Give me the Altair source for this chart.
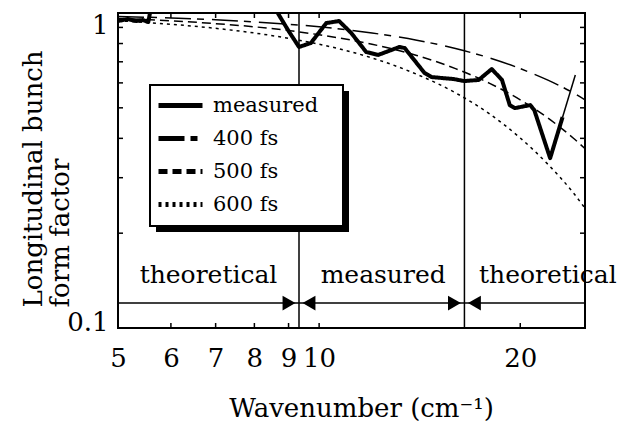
import altair as alt
import pandas as pd

# ---------------- data ----------------
# theoretical Gaussian form factors (wavenumber in cm^-1)
k_theory = [5, 6, 7, 8, 9, 10, 12, 14, 16, 18, 20, 22, 24, 25]
ff_400 = [0.975, 0.964, 0.952, 0.937, 0.921, 0.904, 0.864, 0.820, 0.771, 0.720, 0.666, 0.612, 0.558, 0.530]
ff_500 = [0.961, 0.945, 0.925, 0.904, 0.880, 0.853, 0.796, 0.733, 0.666, 0.598, 0.530, 0.464, 0.401, 0.371]
ff_600 = [0.945, 0.921, 0.894, 0.864, 0.831, 0.796, 0.720, 0.639, 0.558, 0.478, 0.401, 0.331, 0.269, 0.240]

# measured form factor
meas_k = [5.0, 5.17, 5.32, 5.45, 5.55, 5.63, 6.5, 8.0, 8.47, 8.67, 9.0, 9.33, 9.72, 10.25,
          10.71, 11.17, 11.76, 12.26, 13.19, 13.43, 14.38, 14.73, 15.9, 16.5, 17.33, 18.13,
          18.78, 19.29, 19.63, 20.7, 20.99, 22.17, 22.9, 23.14]
meas_ff = [0.943, 0.957, 0.943, 0.95, 0.936, 1.1, 1.25, 1.25, 1.08, 1.0, 0.877, 0.78, 0.803, 0.929,
           0.943, 0.864, 0.752, 0.736, 0.78, 0.774, 0.645, 0.626, 0.617, 0.608, 0.613, 0.664,
           0.613, 0.51, 0.499, 0.51, 0.492, 0.346, 0.434, 0.467]
ext_k = [23.14, 24.18]
ext_ff = [0.467, 0.636]

series_names = ["measured", "400 fs", "500 fs", "600 fs"]

boundaries = [9.33, 16.5]
region_k = [6.83, 12.47, 22.0]
region_labels = ["theoretical", "measured", "theoretical"]
region_y = 0.139
arrow_y = 0.12

x_tick_labels = [5, 6, 7, 8, 9, 10, 20]
x_minor = [6, 7, 8, 9, 10, 20]
y_tick_labels = [0.1, 1]
y_minor = [0.2, 0.3, 0.4, 0.5, 0.6, 0.7, 0.8, 0.9]

# ---------------- chart ----------------
FONT = "DejaVu Serif"
W, H = 467, 315

xs = alt.Scale(type="log", domain=[5, 25], nice=False)
ys = alt.Scale(type="log", domain=[0.1, 1], nice=False)

theory_df = pd.DataFrame({
    "k": k_theory * 3,
    "ff": ff_400 + ff_500 + ff_600,
    "series": ["400 fs"] * len(k_theory) + ["500 fs"] * len(k_theory) + ["600 fs"] * len(k_theory),
})
meas_df = pd.DataFrame({"k": meas_k, "ff": meas_ff, "series": ["measured"] * len(meas_k)})
ext_df = pd.DataFrame({"k": ext_k, "ff": ext_ff})
bound_df = pd.DataFrame({"k": boundaries, "ff": [arrow_y] * len(boundaries)})
region_df = pd.DataFrame({"k": region_k, "ff": [region_y] * 3, "label": region_labels})
xminor_df = pd.DataFrame({"k": x_minor})
yminor_df = pd.DataFrame({"ff": y_minor})
hline_df = pd.DataFrame({"ff": [arrow_y]})
one_df = pd.DataFrame({"a": [0]})

dash_scale = alt.Scale(domain=series_names,
                       range=[[1, 0], [26, 6, 7, 8], [9, 5], [3, 4]])

legend = alt.Legend(
    title=None, orient="none", legendX=38, legendY=76, padding=0,
    symbolType="stroke", symbolSize=1936, symbolStrokeWidth=5,
    symbolStrokeColor="black", labelFont=FONT, labelFontSize=21,
    labelOffset=8, rowPadding=0, clipHeight=33, labelColor="black",
)

x_axis = alt.Axis(
    values=x_tick_labels, format="d", ticks=False, domain=False, grid=False,
    labelFont=FONT, labelFontSize=26, labelColor="black", labelPadding=17,
    labelFlush=False, labelOverlap=False,
    title="Wavenumber (cm⁻¹)", titleFont=FONT, titleFontSize=26,
    titleFontWeight="normal", titleColor="black", titleX=243, titleY=88,
    titleBaseline="alphabetic", titleAlign="center",
)
y_axis = alt.Axis(
    values=y_tick_labels, format="~g", ticks=False, domain=False, grid=False,
    labelFont=FONT, labelFontSize=26, labelColor="black", labelPadding=10,
    labelOffset={"condition": {"test": "datum.value >= 1", "value": 12}, "value": -6},
    title=["Longitudinal bunch", "form factor"], titleFont=FONT, titleFontSize=26,
    titleFontWeight="normal", titleColor="black", titleAngle=270,
    titleAlign="left", titleBaseline="alphabetic", titleX=-77, titleY=294,
    titleLineHeight=27,
)

X = alt.X("k:Q", scale=xs, axis=x_axis)
Y = alt.Y("ff:Q", scale=ys, axis=y_axis)

theory = alt.Chart(theory_df).mark_line(color="black", strokeWidth=1.5, interpolate="monotone").encode(
    x=X, y=Y,
    strokeDash=alt.StrokeDash("series:N", scale=dash_scale, legend=legend),
    detail="series:N",
)

measured = alt.Chart(meas_df).mark_line(color="black", strokeWidth=4, clip=True, strokeJoin="round").encode(
    x=X, y=Y,
    strokeDash=alt.StrokeDash("series:N", scale=dash_scale, legend=legend),
)

extension = alt.Chart(ext_df).mark_line(color="black", strokeWidth=1.5, clip=True).encode(x=X, y=Y)

vrules = alt.Chart(bound_df).mark_rule(color="black", strokeWidth=1.5).encode(x=X)
hrule = alt.Chart(hline_df).mark_rule(color="black", strokeWidth=1.5).encode(y=Y)

arrows_r = alt.Chart(bound_df).mark_point(shape="triangle-right", filled=True, color="black",
                                          size=220, opacity=1, xOffset=-10).encode(x=X, y=Y)
arrows_l = alt.Chart(bound_df).mark_point(shape="triangle-left", filled=True, color="black",
                                          size=220, opacity=1, xOffset=10).encode(x=X, y=Y)

region_text = alt.Chart(region_df).mark_text(font=FONT, fontSize=25, color="black",
                                             baseline="alphabetic", align="center").encode(
    x=X, y=Y, text="label:N",
)

tick_style = dict(color="black", strokeWidth=1.5)
xt_top = alt.Chart(xminor_df).mark_rule(**tick_style).encode(x=X, y=alt.value(0), y2=alt.value(5))
xt_bot = alt.Chart(xminor_df).mark_rule(**tick_style).encode(x=X, y=alt.value(H), y2=alt.value(H - 5))
yt_left = alt.Chart(yminor_df).mark_rule(**tick_style).encode(y=Y, x=alt.value(0), x2=alt.value(5))
yt_right = alt.Chart(yminor_df).mark_rule(**tick_style).encode(y=Y, x=alt.value(W), x2=alt.value(W - 5))

shadow = alt.Chart(one_df).mark_rect(color="black").encode(
    x=alt.value(38), x2=alt.value(231), y=alt.value(78), y2=alt.value(219))
box = alt.Chart(one_df).mark_rect(fill="white", stroke="black", strokeWidth=2).encode(
    x=alt.value(32), x2=alt.value(225), y=alt.value(72), y2=alt.value(213))

chart = alt.layer(
    theory, measured, extension,
    xt_top, xt_bot, yt_left, yt_right,
    vrules, hrule, arrows_r, arrows_l, region_text,
    shadow, box,
).properties(
    width=W, height=H,
    padding={"left": 118, "top": 13, "right": 33, "bottom": 97},
    autosize=alt.AutoSizeParams(type="none"),
    background="white",
).configure_view(
    stroke="black", strokeWidth=2,
)

chart.save("out.html", embed_options={"renderer": "svg", "actions": False})
